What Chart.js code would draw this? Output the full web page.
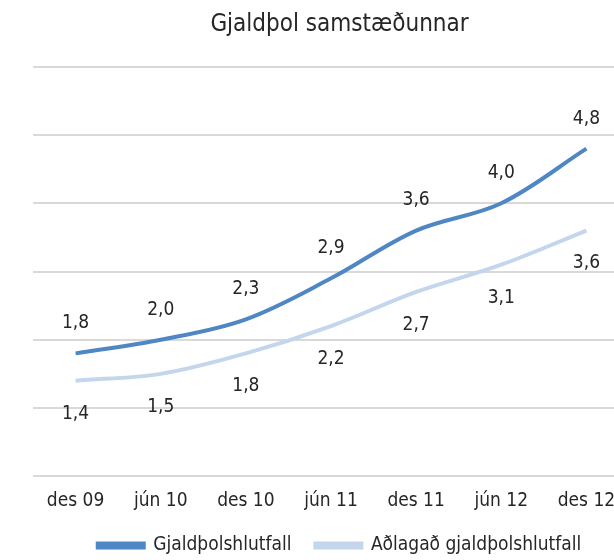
<!DOCTYPE html>
<html>
<head>
<meta charset="utf-8">
<script src="https://cdn.jsdelivr.net/npm/chart.js@4/dist/chart.umd.min.js"></script>
<style>
  body { margin: 0; overflow: hidden; background: #fff; }
  canvas { display: block; }
</style>
</head>
<body>
<canvas id="myChart" width="662" height="565"></canvas>
<script>
const xValues = ["des 09", "jún 10", "des 10", "jún 11", "des 11", "jún 12", "des 12"];
const gjaldthol = [1.8, 2.0, 2.3, 2.9, 3.6, 4.0, 4.8];
const adlagad = [1.4, 1.5, 1.8, 2.2, 2.7, 3.1, 3.6];
const seriesNames = ["Gjaldþolshlutfall", "Aðlagað gjaldþolshlutfall"];

const FONT = "'Liberation Sans Narrow', 'DejaVu Sans Condensed', sans-serif";

// draw the value labels: first series above the line, second below
const valueLabels = {
  id: "valueLabels",
  afterDatasetsDraw(chart) {
    const ctx = chart.ctx;
    ctx.save();
    ctx.font = "19px " + FONT;
    ctx.fillStyle = "#262626";
    ctx.textAlign = "center";
    ctx.textBaseline = "middle";
    chart.data.datasets.forEach((ds, i) => {
      chart.getDatasetMeta(i).data.forEach((pt, j) => {
        const txt = ds.data[j].toFixed(1).replace(".", ",");
        const dy = i === 0 ? -30 : 33;
        ctx.fillText(txt, pt.x, pt.y + dy);
      });
    });
    ctx.restore();
  }
};

new Chart("myChart", {
  type: "line",
  data: {
    labels: xValues,
    datasets: [{
      label: seriesNames[0],
      data: gjaldthol,
      borderColor: "#4f86c4",
      backgroundColor: "#4f86c4",
      borderWidth: 4,
      pointRadius: 0,
      tension: 0.35
    }, {
      label: seriesNames[1],
      data: adlagad,
      borderColor: "#c3d6ec",
      backgroundColor: "#c3d6ec",
      borderWidth: 4,
      pointRadius: 0,
      tension: 0.35
    }]
  },
  options: {
    responsive: false,
    animation: false,
    layout: { padding: { left: 33, right: 16, top: 6, bottom: 0 } },
    plugins: {
      title: {
        display: true,
        text: "Gjaldþol samstæðunnar",
        color: "#262626",
        font: { family: FONT, size: 24, weight: "normal" },
        padding: { top: 4, bottom: 28 }
      },
      legend: {
        position: "bottom",
        labels: {
          color: "#262626",
          font: { family: FONT, size: 19 },
          boxWidth: 46,
          boxHeight: 4,
          padding: 24
        }
      },
      tooltip: { enabled: false }
    },
    scales: {
      x: {
        offset: true,
        grid: { display: false },
        border: { display: false },
        ticks: { color: "#262626", font: { family: FONT, size: 19 }, padding: 5 },
        afterFit(scale) { scale.height -= 5; }
      },
      y: {
        min: 0,
        max: 6,
        ticks: { display: false, stepSize: 1 },
        border: { display: false },
        grid: { color: "#d9d9d9", lineWidth: 2, drawTicks: false }
      },
      // empty right axis, only to leave room past the last category
      yRight: {
        position: "right",
        grid: { display: false },
        border: { display: false },
        ticks: { display: false },
        afterFit(scale) { scale.width = 17; }
      }
    }
  },
  plugins: [valueLabels]
});
</script>
</body>
</html>
